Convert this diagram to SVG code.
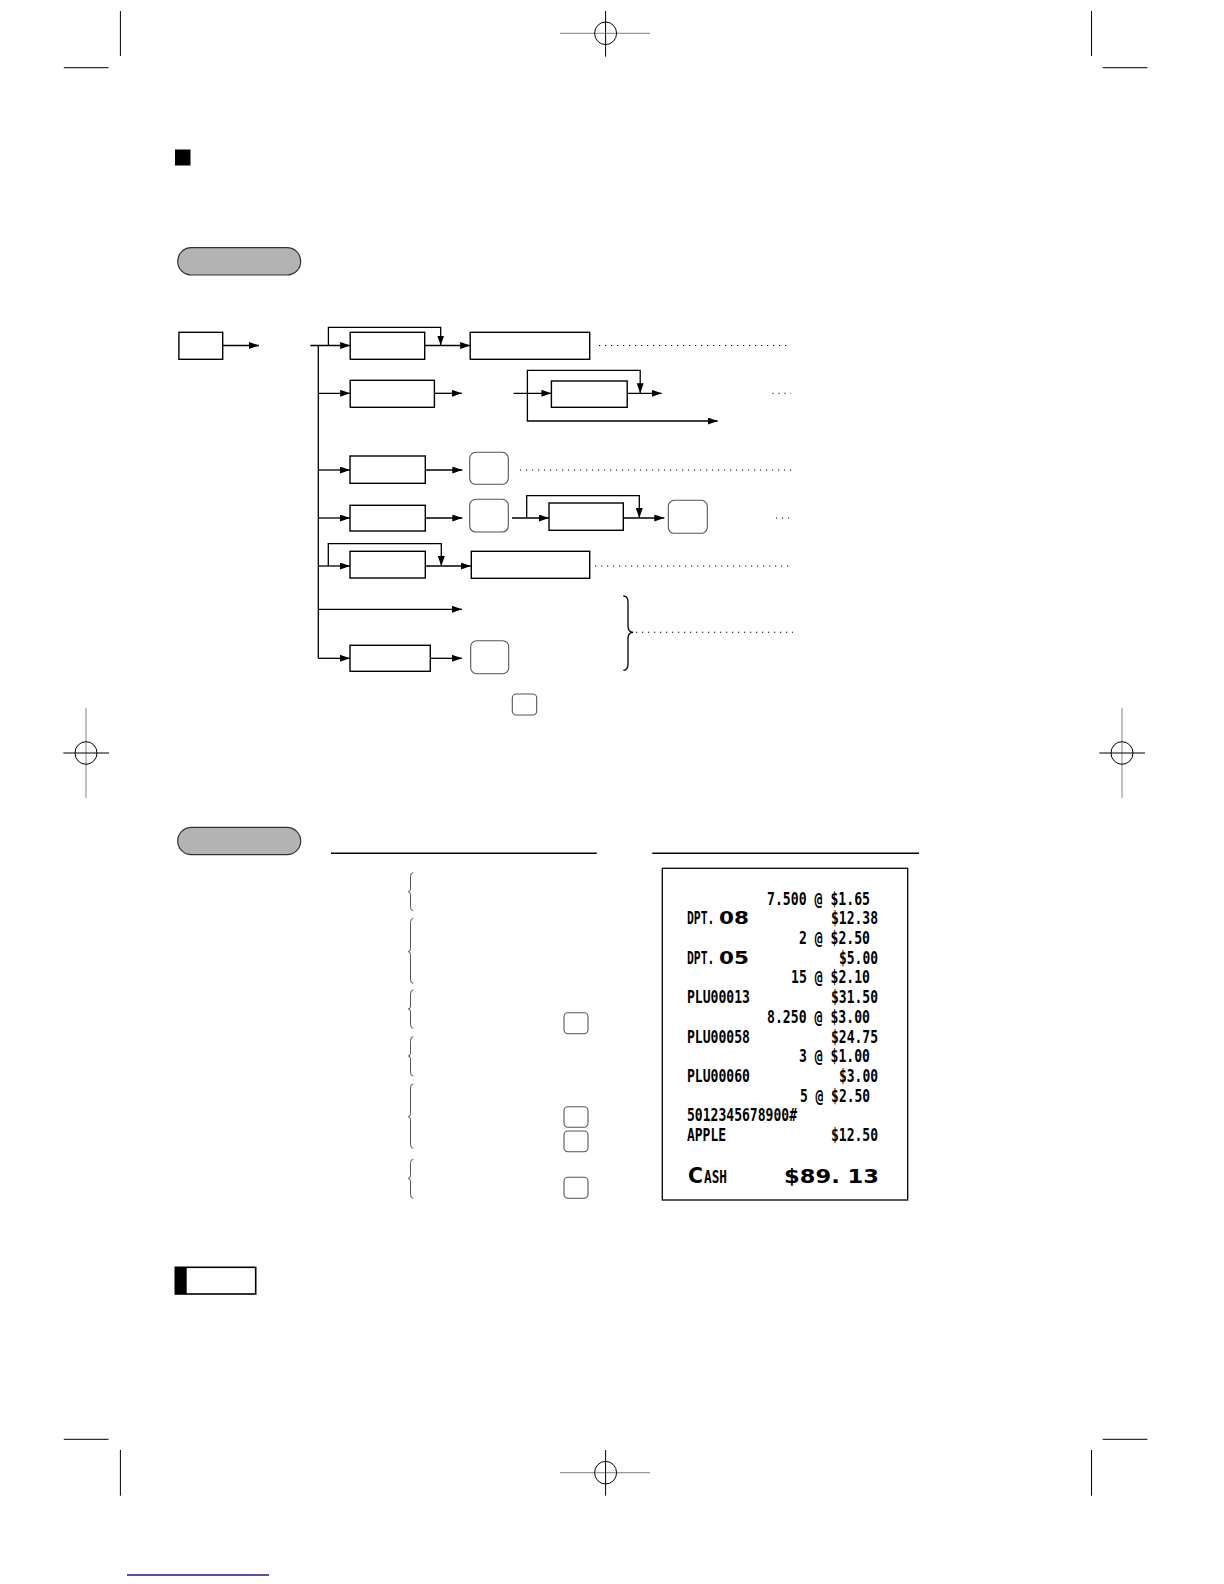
<svg xmlns="http://www.w3.org/2000/svg" width="1224" height="1584" viewBox="0 0 1224 1584">
<style>
.bx{fill:#fff;stroke:#000;stroke-width:1.4}
.key{fill:#fff;stroke:#555;stroke-width:1.1}
.ln{fill:none;stroke:#000;stroke-width:1.3}
.ar{fill:none;stroke:#000;stroke-width:1.3;marker-end:url(#ah)}
.dot{fill:none;stroke:#000;stroke-width:1.1;stroke-dasharray:1.2 4.8}
.brc{fill:none;stroke:#555;stroke-width:1}
.pill{fill:#b3b3b3;stroke:#333;stroke-width:1.2}
.reg{fill:none;stroke:#000;stroke-width:1}
.regg{fill:none;stroke:#999;stroke-width:1.2}
.rc{font-family:"DejaVu Sans Mono","Liberation Mono",monospace;font-size:16.8px;font-weight:bold;fill:#000}
.rw{font-family:"DejaVu Sans","Liberation Sans",sans-serif;font-weight:bold;fill:#000}
</style>
<defs>
<marker id="ah" markerUnits="userSpaceOnUse" markerWidth="11" markerHeight="8" refX="10" refY="3.5" orient="auto">
<path d="M0,0 L10,3.5 L0,7 z" fill="#000"/>
</marker>
</defs>
<rect width="1224" height="1584" fill="#fff"/>

<g id="printmarks">
<line class="reg" x1="120.4" y1="11" x2="120.4" y2="56"/>
<line class="reg" x1="63.8" y1="67.7" x2="108.5" y2="67.7"/>
<line class="reg" x1="1091.5" y1="11" x2="1091.5" y2="56"/>
<line class="reg" x1="1102.7" y1="67.7" x2="1147.4" y2="67.7"/>
<line class="reg" x1="63.8" y1="1439.3" x2="108.5" y2="1439.3"/>
<line class="reg" x1="120.4" y1="1450" x2="120.4" y2="1495.7"/>
<line class="reg" x1="1102.7" y1="1439.3" x2="1147.4" y2="1439.3"/>
<line class="reg" x1="1091.5" y1="1450" x2="1091.5" y2="1495.7"/>
<line class="regg" x1="560" y1="33.3" x2="650" y2="33.3"/>
<line class="reg" x1="605.6" y1="11" x2="605.6" y2="56.7"/>
<ellipse class="reg" cx="605.6" cy="33.3" rx="11" ry="11.3"/>
<line class="regg" x1="560" y1="1472.7" x2="650" y2="1472.7"/>
<line class="reg" x1="605.6" y1="1450" x2="605.6" y2="1495.7"/>
<ellipse class="reg" cx="605.6" cy="1472.7" rx="11" ry="11.3"/>
<line class="regg" x1="86" y1="707.7" x2="86" y2="798.3"/>
<line class="reg" x1="63.3" y1="753" x2="109" y2="753"/>
<ellipse class="reg" cx="86" cy="753" rx="11" ry="11.3"/>
<line class="regg" x1="1122" y1="707.7" x2="1122" y2="798.3"/>
<line class="reg" x1="1099.3" y1="753" x2="1145" y2="753"/>
<ellipse class="reg" cx="1122" cy="753" rx="11" ry="11.3"/>
<line x1="127" y1="1575" x2="269" y2="1575" stroke="#1a1a80" stroke-width="1.6"/>
</g>

<g id="headings">
<rect x="175" y="149.5" width="15.5" height="16" fill="#000"/>
<rect class="pill" x="177.7" y="247.7" width="123" height="27.3" rx="13.6"/>
<rect class="pill" x="177.7" y="827.3" width="123" height="27.4" rx="13.7"/>
<line x1="331" y1="853.3" x2="596.7" y2="853.3" stroke="#000" stroke-width="1.5"/>
<line x1="652.3" y1="853.3" x2="919" y2="853.3" stroke="#000" stroke-width="1.5"/>
<rect x="175.3" y="1267.3" width="80.4" height="26.7" fill="#fff" stroke="#000" stroke-width="1.6"/>
<rect x="175.3" y="1267.3" width="11.4" height="26.7" fill="#000"/>
</g>

<g id="connectors">
<line class="ar" x1="222.7" y1="345.5" x2="259" y2="345.5"/>
<path class="ln" d="M318.3,345.5 V658.3"/>
<line class="ar" x1="310.3" y1="345.5" x2="350.2" y2="345.5"/>
<path class="ar" d="M328.4,345.5 V327.3 H440.7 V345.5"/>
<line class="ar" x1="424.7" y1="345.5" x2="470.2" y2="345.5"/>
<line class="dot" x1="599" y1="345.5" x2="789" y2="345.5"/>

<line class="ar" x1="318.3" y1="393.3" x2="350.2" y2="393.3"/>
<line class="ar" x1="434.4" y1="393.3" x2="461.8" y2="393.3"/>
<line class="ar" x1="513.5" y1="393.3" x2="551.4" y2="393.3"/>
<path class="ar" d="M527.4,393.3 V370.3 H640.2 V393.3"/>
<line class="ar" x1="627.2" y1="393.3" x2="661.7" y2="393.3"/>
<path class="ar" d="M527.4,393.3 V421 H717.7"/>
<line class="dot" x1="772.4" y1="393.3" x2="791" y2="393.3"/>

<line class="ar" x1="318.3" y1="470" x2="350" y2="470"/>
<line class="ar" x1="425.3" y1="470" x2="462.3" y2="470"/>
<line class="dot" x1="520" y1="470" x2="791.7" y2="470"/>

<line class="ar" x1="318.3" y1="518" x2="350" y2="518"/>
<line class="ar" x1="425.3" y1="518" x2="462.3" y2="518"/>
<line class="ar" x1="512" y1="518" x2="549" y2="518"/>
<path class="ar" d="M526.7,518 V495.7 H639.3 V518"/>
<line class="ar" x1="623.3" y1="518" x2="664.3" y2="518"/>
<line class="dot" x1="776" y1="518" x2="790" y2="518"/>

<line class="ar" x1="318.3" y1="566" x2="350" y2="566"/>
<path class="ar" d="M328.3,566 V543.7 H441.3 V566"/>
<line class="ar" x1="425.3" y1="566" x2="470.7" y2="566"/>
<line class="dot" x1="595" y1="566" x2="791" y2="566"/>

<line class="ar" x1="318.3" y1="609.3" x2="462" y2="609.3"/>
<path class="ar" d="M318.3,658.3 H350"/>
<line class="ar" x1="430.3" y1="658.3" x2="462" y2="658.3"/>
<path class="ln" d="M623.3,596 Q628,596 628,602 V626 Q628,632.3 633.3,632.3 Q628,632.3 628,638.6 V664 Q628,670.3 623.3,670.3"/>
<line class="dot" x1="636" y1="632.3" x2="793" y2="632.3"/>
</g>

<g id="n-start"><rect class="bx" x="178.9" y="332.3" width="43.8" height="27"/></g>
<g id="n-r1a"><rect class="bx" x="350.2" y="332.3" width="74.5" height="27"/></g>
<g id="n-r1b"><rect class="bx" x="470.2" y="332.3" width="119.5" height="27"/></g>
<g id="n-r2a"><rect class="bx" x="350.2" y="380.3" width="84.2" height="27"/></g>
<g id="n-r2b"><rect class="bx" x="551.4" y="381" width="75.8" height="26.3"/></g>
<g id="n-r3a"><rect class="bx" x="350" y="456" width="75.3" height="27.3"/></g>
<g id="n-r3k"><rect class="key" x="469.7" y="452.3" width="38.6" height="32" rx="6"/></g>
<g id="n-r4a"><rect class="bx" x="350" y="505.3" width="75.3" height="25.7"/></g>
<g id="n-r4k"><rect class="key" x="469.7" y="499.3" width="38.6" height="32.7" rx="6"/></g>
<g id="n-r4b"><rect class="bx" x="549" y="503" width="74.3" height="27.3"/></g>
<g id="n-r4k2"><rect class="key" x="668.3" y="500.3" width="39" height="33" rx="6"/></g>
<g id="n-r5a"><rect class="bx" x="350" y="551.3" width="75.3" height="26.7"/></g>
<g id="n-r5b"><rect class="bx" x="471.3" y="551.3" width="118.4" height="27"/></g>
<g id="n-r7a"><rect class="bx" x="350" y="645.3" width="80.3" height="26"/></g>
<g id="n-r7k"><rect class="key" x="470.7" y="640.7" width="38" height="33" rx="6"/></g>
<g id="n-notekey"><rect class="key" x="512.3" y="694" width="24.4" height="21" rx="4"/></g>

<g id="procedure">
<path class="brc" d="M413.3,872.7 Q410.5,872.7 410.5,876.7 V888.7 Q410.5,891.7 408.3,891.7 Q410.5,891.7 410.5,894.7 V906.7 Q410.5,910.7 413.3,910.7"/>
<path class="brc" d="M413.3,918.3 Q410.5,918.3 410.5,922.3 V948.7 Q410.5,951.7 408.3,951.7 Q410.5,951.7 410.5,954.7 V979.3 Q410.5,983.3 413.3,983.3"/>
<path class="brc" d="M413.3,990 Q410.5,990 410.5,994 V1006 Q410.5,1009 408.3,1009 Q410.5,1009 410.5,1012 V1024.3 Q410.5,1028.3 413.3,1028.3"/>
<path class="brc" d="M413.3,1036.7 Q410.5,1036.7 410.5,1040.7 V1053 Q410.5,1056 408.3,1056 Q410.5,1056 410.5,1059 V1072 Q410.5,1076 413.3,1076"/>
<path class="brc" d="M413.3,1084 Q410.5,1084 410.5,1088 V1113.7 Q410.5,1116.7 408.3,1116.7 Q410.5,1116.7 410.5,1119.7 V1144.3 Q410.5,1148.3 413.3,1148.3"/>
<path class="brc" d="M413.3,1159.3 Q410.5,1159.3 410.5,1163.3 V1175.3 Q410.5,1178.3 408.3,1178.3 Q410.5,1178.3 410.5,1181.3 V1194.3 Q410.5,1198.3 413.3,1198.3"/>
<rect class="key" x="564" y="1012.7" width="24" height="21" rx="4"/>
<rect class="key" x="564" y="1106.7" width="24" height="20.6" rx="4"/>
<rect class="key" x="564" y="1131" width="24" height="20.7" rx="4"/>
<rect class="key" x="564" y="1177.3" width="24" height="21" rx="4"/>
</g>

<g id="receipt">
<rect x="662.3" y="868.3" width="245.4" height="331.7" fill="#fff" stroke="#000" stroke-width="1.3"/>
<text class="rc" x="767" y="904.5" textLength="103" lengthAdjust="spacingAndGlyphs">7.500 @ $1.65</text>
<text class="rc" transform="translate(687,924.2) scale(0.68,1)" x="0" y="0">DPT.<tspan class="rw" x="47" font-size="17" textLength="44" lengthAdjust="spacingAndGlyphs">08</tspan></text>
<text class="rc" x="831" y="924.2" textLength="47" lengthAdjust="spacingAndGlyphs">$12.38</text>
<text class="rc" x="799" y="943.9" textLength="71" lengthAdjust="spacingAndGlyphs">2 @ $2.50</text>
<text class="rc" transform="translate(687,963.7) scale(0.68,1)" x="0" y="0">DPT.<tspan class="rw" x="47" font-size="17" textLength="44" lengthAdjust="spacingAndGlyphs">05</tspan></text>
<text class="rc" x="839" y="963.7" textLength="39" lengthAdjust="spacingAndGlyphs">$5.00</text>
<text class="rc" x="791" y="983.4" textLength="79" lengthAdjust="spacingAndGlyphs">15 @ $2.10</text>
<text class="rc" x="687" y="1003.1" textLength="63" lengthAdjust="spacingAndGlyphs">PLU00013</text>
<text class="rc" x="831" y="1003.1" textLength="47" lengthAdjust="spacingAndGlyphs">$31.50</text>
<text class="rc" x="767" y="1022.8" textLength="103" lengthAdjust="spacingAndGlyphs">8.250 @ $3.00</text>
<text class="rc" x="687" y="1042.5" textLength="63" lengthAdjust="spacingAndGlyphs">PLU00058</text>
<text class="rc" x="831" y="1042.5" textLength="47" lengthAdjust="spacingAndGlyphs">$24.75</text>
<text class="rc" x="799" y="1062.3" textLength="71" lengthAdjust="spacingAndGlyphs">3 @ $1.00</text>
<text class="rc" x="687" y="1082" textLength="63" lengthAdjust="spacingAndGlyphs">PLU00060</text>
<text class="rc" x="839" y="1082" textLength="39" lengthAdjust="spacingAndGlyphs">$3.00</text>
<text class="rc" x="800" y="1101.7" textLength="70" lengthAdjust="spacingAndGlyphs">5 @ $2.50</text>
<text class="rc" x="687" y="1121.4" textLength="110" lengthAdjust="spacingAndGlyphs">5012345678900#</text>
<text class="rc" x="687" y="1141.1" textLength="39" lengthAdjust="spacingAndGlyphs">APPLE</text>
<text class="rc" x="831" y="1141.1" textLength="47" lengthAdjust="spacingAndGlyphs">$12.50</text>
<text class="rc" y="1183.3"><tspan class="rw" x="688" font-size="21" textLength="15" lengthAdjust="spacingAndGlyphs">C</tspan><tspan x="704" font-size="18" textLength="23" lengthAdjust="spacingAndGlyphs">ASH</tspan></text>
<text class="rw" x="784" y="1183.3" font-size="20" textLength="95" lengthAdjust="spacingAndGlyphs">$89. 13</text>
</g>
</svg>
